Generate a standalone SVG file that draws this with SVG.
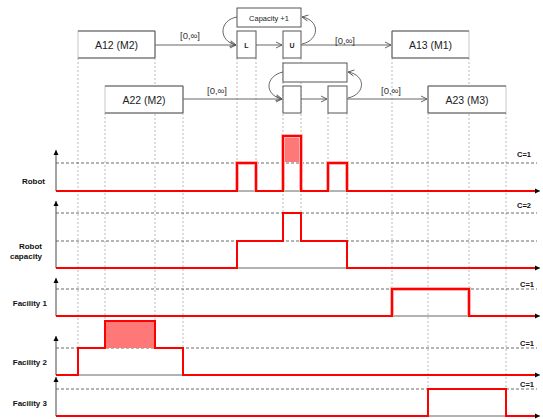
<svg xmlns="http://www.w3.org/2000/svg" width="543" height="419" viewBox="0 0 543 419">
<defs>
<marker id="oa" markerWidth="8" markerHeight="8" refX="7" refY="4" orient="auto" markerUnits="userSpaceOnUse">
<path d="M1,1 L7,4 L1,7" fill="none" stroke="#555" stroke-width="0.9"/>
</marker>
<marker id="ax" markerWidth="6" markerHeight="6" refX="5" refY="3" orient="auto" markerUnits="userSpaceOnUse">
<path d="M0,0.5 L5,3 L0,5.5 Z" fill="#000"/>
</marker>
</defs>
<style>
.box{fill:#fff;stroke:#c8c8c8;stroke-width:1}
.edge{fill:none;stroke:#555;stroke-width:1}
.lbl{font-family:"Liberation Sans",Arial,sans-serif;font-size:10.5px;fill:#222;text-anchor:middle}
.sm{font-family:"Liberation Sans",Arial,sans-serif;font-size:7.5px;fill:#222;text-anchor:middle}
.smb{font-family:"Liberation Sans",Arial,sans-serif;font-size:7px;font-weight:bold;fill:#222;text-anchor:middle}
.iv{font-family:"Liberation Sans",Arial,sans-serif;font-size:9.5px;fill:#333;text-anchor:middle}
.rl{font-family:"Liberation Sans",Arial,sans-serif;font-size:8px;font-weight:bold;fill:#111;text-anchor:end}
.cl{font-family:"Liberation Sans",Arial,sans-serif;font-size:7.5px;font-weight:bold;fill:#111;text-anchor:start}
.conn{fill:none;stroke:#666;stroke-width:1;marker-end:url(#oa)}
.vd{stroke:#aaa;stroke-width:0.8;stroke-dasharray:2,2}
.hd{stroke:#444;stroke-width:0.8;stroke-dasharray:3,2}
.axis{stroke:#666;stroke-width:1.2;marker-end:url(#ax)}
.glow{fill:none;stroke:#ffb0b0;stroke-width:4;stroke-linejoin:miter}
.red{fill:none;stroke:#ff0000;stroke-width:2;stroke-linejoin:miter}
.hl{fill:#ff7878;stroke:none}
</style>

<g id="guides">
<line class="vd" x1="78" y1="58" x2="78" y2="348"/>
<line class="vd" x1="155" y1="58" x2="155" y2="321"/>
<line class="vd" x1="105" y1="113" x2="105" y2="321"/>
<line class="vd" x1="183" y1="113" x2="183" y2="348"/>
<line class="vd" x1="237" y1="58" x2="237" y2="163"/>
<line class="vd" x1="256" y1="58" x2="256" y2="163"/>
<line class="vd" x1="283" y1="58" x2="283" y2="213"/>
<line class="vd" x1="301" y1="58" x2="301" y2="213"/>
<line class="vd" x1="328" y1="113" x2="328" y2="163"/>
<line class="vd" x1="347" y1="113" x2="347" y2="241"/>
<line class="vd" x1="392" y1="58" x2="392" y2="289"/>
<line class="vd" x1="469" y1="58" x2="469" y2="289"/>
<line class="vd" x1="428" y1="113" x2="428" y2="389"/>
<line class="vd" x1="506" y1="113" x2="506" y2="389"/>
</g>

<g id="connectors">
<path class="conn" d="M155,45 H236"/>
<path class="conn" d="M256,45 H282"/>
<path class="conn" d="M301,45 H391"/>
<path class="conn" d="M237,17 C219,20 218,41 236,45"/>
<path class="conn" d="M302,44 C320,40 320,20 302,17"/>
<path class="conn" d="M183,99 H282"/>
<path class="conn" d="M301,99 H327"/>
<path class="conn" d="M347,99 H427"/>
<path class="conn" d="M283,72 C265,76 264,95 282,99"/>
<path class="conn" d="M348,98 C366,94 366,75 348,72"/>
<text class="iv" x="190" y="39">[0,∞]</text>
<text class="iv" x="217" y="94">[0,∞]</text>
<text class="iv" x="345" y="44">[0,∞]</text>
<text class="iv" x="391" y="94">[0,∞]</text>
</g>

<g id="A12">
<rect class="box" x="78" y="31" width="77" height="27"/>
<path class="edge" d="M78,31 H155 V58 H78"/>
<text class="lbl" x="116.5" y="48.5">A12 (M2)</text>
</g>
<g id="A13">
<rect class="box" x="392" y="31" width="77" height="27"/>
<path class="edge" d="M469,31 H392 V58 H469"/>
<text class="lbl" x="430.5" y="48.5">A13 (M1)</text>
</g>
<g id="A22">
<rect class="box" x="105" y="86" width="78" height="27"/>
<path class="edge" d="M105,86 H183 V113 H105"/>
<text class="lbl" x="144" y="103.5">A22 (M2)</text>
</g>
<g id="A23">
<rect class="box" x="428" y="86" width="78" height="27"/>
<path class="edge" d="M506,86 H428 V113 H506"/>
<text class="lbl" x="467" y="103.5">A23 (M3)</text>
</g>
<g id="capacity1">
<rect x="237" y="8" width="64" height="19" fill="#fff" stroke="#555"/>
<text class="sm" x="269" y="20.5">Capacity +1</text>
</g>
<g id="L">
<rect x="237" y="31" width="19" height="27" fill="#fff" stroke="#555"/>
<text class="smb" x="246.5" y="47.5">L</text>
</g>
<g id="U">
<rect x="283" y="31" width="18" height="27" fill="#fff" stroke="#555"/>
<text class="smb" x="292" y="47.5">U</text>
</g>
<g id="capacity2">
<rect x="283" y="63" width="64" height="19" fill="#fff" stroke="#555"/>
</g>
<g id="L2">
<rect x="283" y="86" width="18" height="27" fill="#fff" stroke="#555"/>
</g>
<g id="U2">
<rect x="328" y="86" width="19" height="27" fill="#fff" stroke="#555"/>
</g>

<g id="robot">
<line class="hd" x1="56" y1="163" x2="537" y2="163"/>
<line class="axis" x1="56" y1="191" x2="56" y2="150"/>
<line class="axis" x1="56" y1="191" x2="540" y2="191"/>
<rect class="hl" x="283" y="136" width="18" height="26"/>
<path class="glow" d="M237,191 V163 H256 V191 M283,191 V136 H301 V191 M328,191 V163 H347 V191"/>
<path class="red" d="M56,191 H237 V163 H256 V191 H283 V136 H301 V191 H328 V163 H347 V191 H535"/>
<text class="rl" x="45" y="184">Robot</text>
<text class="cl" x="517" y="157">C=1</text>
</g>
<g id="robot-capacity">
<line class="hd" x1="56" y1="213" x2="537" y2="213"/>
<line class="hd" x1="56" y1="241" x2="537" y2="241"/>
<line class="axis" x1="56" y1="268" x2="56" y2="201"/>
<line class="axis" x1="56" y1="268" x2="540" y2="268"/>
<path class="red" d="M56,268 H237 V241 H283 V213 H301 V241 H347 V268 H535"/>
<text class="rl" x="42" y="249">Robot</text>
<text class="rl" x="42" y="259">capacity</text>
<text class="cl" x="517" y="208">C=2</text>
</g>
<g id="facility1">
<line class="hd" x1="56" y1="289" x2="537" y2="289"/>
<line class="axis" x1="56" y1="316" x2="56" y2="278"/>
<line class="axis" x1="56" y1="316" x2="540" y2="316"/>
<path class="glow" d="M392,316 V289 H469 V316"/>
<path class="red" d="M56,316 H392 V289 H469 V316 H535"/>
<text class="rl" x="47" y="306">Facility 1</text>
<text class="cl" x="520" y="287">C=1</text>
</g>
<g id="facility2">
<line class="hd" x1="56" y1="348" x2="537" y2="348"/>
<line class="axis" x1="56" y1="375" x2="56" y2="336"/>
<line class="axis" x1="56" y1="375" x2="540" y2="375"/>
<rect class="hl" x="105" y="321" width="50" height="27"/>
<path class="red" d="M56,375 H78 V348 H105 V321 H155 V348 H183 V375 H535"/>
<text class="rl" x="47" y="365">Facility 2</text>
<text class="cl" x="520" y="346">C=1</text>
</g>
<g id="facility3">
<line class="hd" x1="56" y1="389" x2="537" y2="389"/>
<line class="axis" x1="56" y1="416" x2="56" y2="377"/>
<line class="axis" x1="56" y1="416" x2="540" y2="416"/>
<path class="red" d="M56,416 H428 V389 H506 V416 H535"/>
<text class="rl" x="47" y="406">Facility 3</text>
<text class="cl" x="520" y="387">C=1</text>
</g>
</svg>
